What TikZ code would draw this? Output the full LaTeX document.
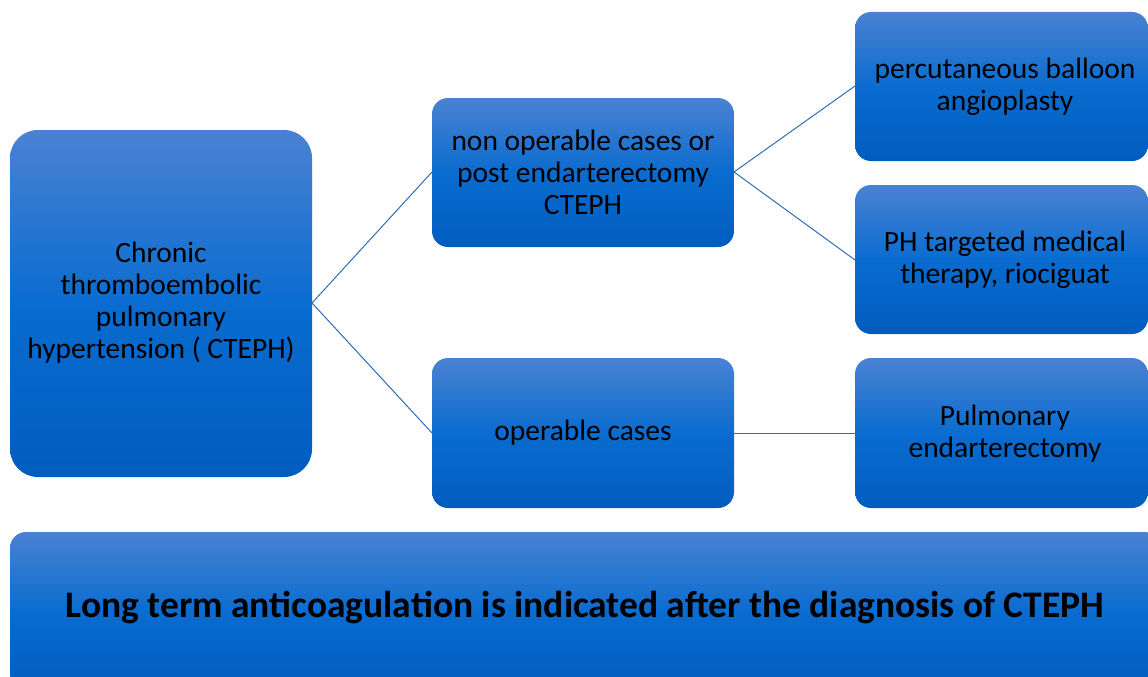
\documentclass[tikz,border=0pt]{standalone}
\usepackage{fontspec}
\setmainfont{Carlito}
\definecolor{gtop}{HTML}{4A82D2}
\definecolor{gmid}{HTML}{0A6CD0}
\definecolor{gbot}{HTML}{005DBE}
\definecolor{link}{HTML}{2F6DB5}
\begin{document}
\begin{tikzpicture}[x=1pt,y=-1pt,
  box/.style={rounded corners=#1, top color=gtop, bottom color=gbot, middle color=gmid, draw=none},
  box/.default=16,
  lbl/.style={align=center, font=\fontsize{29.5}{32}\selectfont, text=black, inner sep=0pt},
  conn/.style={draw=link, line width=1pt}]
\useasboundingbox (0,0) rectangle (1148,677);
% boxes
\path[box=28] (10,130) rectangle (312,477);
\path[box] (432,98) rectangle (734,247);
\path[box] (432,358) rectangle (734,508);
\path[box] (855,12) rectangle (1148,161);
\path[box] (855,185) rectangle (1148,334);
\path[box] (855,358) rectangle (1148,508);
\path[box] (10,532) rectangle (1160,690);
% anchors
\coordinate (A) at (312,303);
\coordinate (B1) at (432,172);
\coordinate (B2) at (734,172);
\coordinate (C1) at (432,433);
\coordinate (C2) at (734,433);
\coordinate (D) at (855,86);
\coordinate (E) at (855,260);
\coordinate (F) at (855,433);
\draw[conn] (A) -- (B1);
\draw[conn] (A) -- (C1);
\draw[conn] (B2) -- (D);
\draw[conn] (B2) -- (E);
\draw[conn] (C2) -- (F);
% labels
\node[lbl] (ta) at (161,303) {Chronic\\thromboembolic\\pulmonary\\hypertension ( CTEPH)};
\node[lbl] (tb) at (583,172) {non operable cases or\\post endarterectomy\\CTEPH};
\node[lbl] (tc) at (583,433) {operable cases};
\node[lbl] (td) at (1005,87) {percutaneous balloon\\angioplasty};
\node[lbl] (te) at (1005,260) {PH targeted medical\\therapy, riociguat};
\node[lbl] (tf) at (1005,434) {Pulmonary\\endarterectomy};
\node[lbl, font=\fontsize{37.5}{40}\selectfont\bfseries] (tg) at (585,607) {Long term anticoagulation is indicated after the diagnosis of CTEPH};
\end{tikzpicture}
\end{document}
